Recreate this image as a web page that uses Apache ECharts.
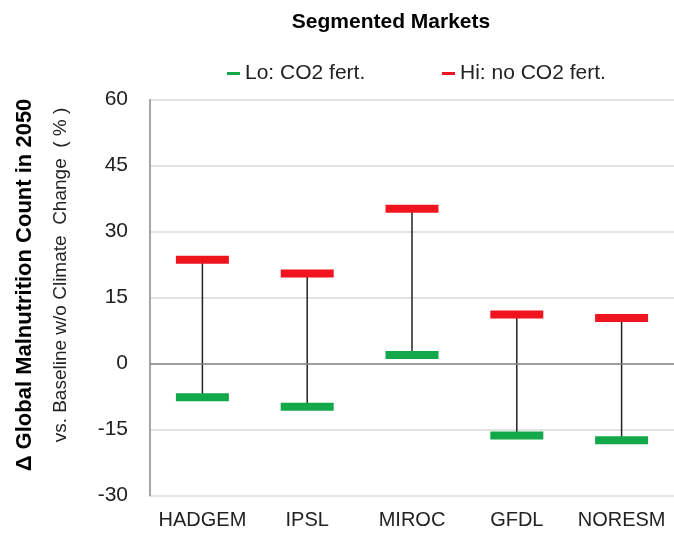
<!DOCTYPE html>
<html><head><meta charset="utf-8">
<script src="https://cdn.jsdelivr.net/npm/echarts@6/dist/echarts.min.js"></script>
<style>html,body{margin:0;padding:0;background:#fff}#c{width:674px;height:535px}</style>
</head><body><div id="c"></div>
<script>
var categories = ['HADGEM', 'IPSL', 'MIROC', 'GFDL', 'NORESM'];
var loValues = [-7.6, -9.8, 2.0, -16.3, -17.4];
var hiValues = [23.6, 20.5, 35.2, 11.2, 10.4];
var yTicks = [-30, -15, 0, 15, 30, 45, 60];

var chart = echarts.init(document.getElementById('c'));
var font = '"Liberation Sans", Arial, sans-serif';
var connData = categories.map(function (c, i) { return [i, loValues[i], hiValues[i]]; });
var legendText = { fontFamily: font, fontSize: 21, color: '#222' };

chart.setOption({
  animation: false,
  title: { text: 'Segmented Markets', left: 386, textAlign: 'center', top: 7,
    textStyle: { fontFamily: font, fontWeight: 'bold', fontSize: 21, color: '#000' } },
  legend: [
    { top: 58, left: 222, icon: 'rect', itemWidth: 13, itemHeight: 3, itemGap: 4,
      textStyle: legendText, data: ['Lo: CO2 fert.'] },
    { top: 58, left: 437, icon: 'rect', itemWidth: 13, itemHeight: 3, itemGap: 4,
      textStyle: legendText, data: ['Hi: no CO2 fert.'] }
  ],
  grid: { left: 150, right: -2, top: 99.7, bottom: 39.3 },
  xAxis: { type: 'category', data: categories, boundaryGap: true,
    axisLine: { show: false }, axisTick: { show: false },
    axisLabel: { interval: 0, margin: 15, fontFamily: font, fontSize: 20, color: '#222' } },
  yAxis: { type: 'value', min: yTicks[0], max: yTicks[yTicks.length - 1], interval: 15,
    axisLine: { show: true, lineStyle: { color: '#888', width: 1.5 } }, axisTick: { show: false },
    axisLabel: { margin: 22, fontFamily: font, fontSize: 21, color: '#222' },
    splitLine: { lineStyle: { color: '#d9d9d9', width: 1.5 } } },
  graphic: [
    { type: 'text', x: 25, y: 285, rotation: Math.PI / 2, style: { text: '\u0394 Global Malnutrition Count in 2050',
      fontFamily: font, fontWeight: 'bold', fontSize: 22, fill: '#000', textAlign: 'center', textVerticalAlign: 'middle' } },
    { type: 'text', x: 61, y: 275, rotation: Math.PI / 2, style: { text: 'vs. Baseline w/o Climate  Change  ( % )',
      fontFamily: font, fontSize: 19, fill: '#222', textAlign: 'center', textVerticalAlign: 'middle' } }
  ],
  series: [
    { type: 'custom', name: 'conn', data: connData, z: 2, silent: true,
      renderItem: function (params, api) {
        var p1 = api.coord([api.value(0), api.value(1)]);
        var p2 = api.coord([api.value(0), api.value(2)]);
        return { type: 'line', shape: { x1: p1[0], y1: p1[1], x2: p2[0], y2: p2[1] },
          style: { stroke: '#222', lineWidth: 1.5 } };
      },
      markLine: { silent: true, symbol: 'none', label: { show: false },
        lineStyle: { color: '#888', width: 1.5, type: 'solid' }, data: [{ yAxis: 0 }] } },
    { type: 'scatter', name: 'Lo: CO2 fert.', data: loValues, symbol: 'rect', symbolSize: [53, 8], z: 3,
      itemStyle: { color: '#13a84a', opacity: 1 } },
    { type: 'scatter', name: 'Hi: no CO2 fert.', data: hiValues, symbol: 'rect', symbolSize: [53, 8], z: 3,
      itemStyle: { color: '#f0141e', opacity: 1 } }
  ]
});
</script></body></html>
